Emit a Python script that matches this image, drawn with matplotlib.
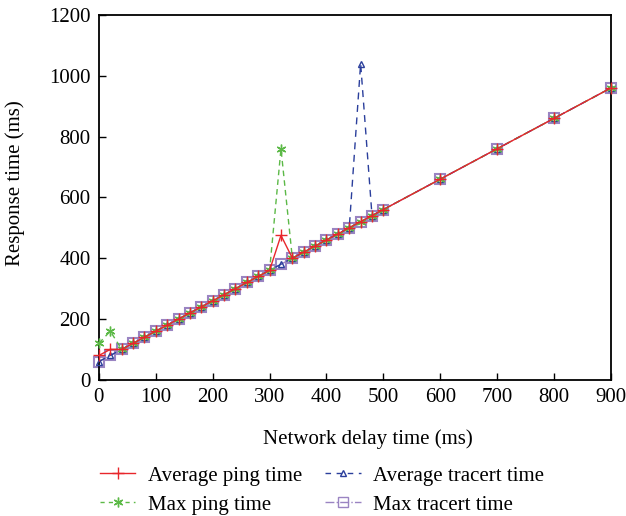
import matplotlib
matplotlib.use('Agg')
import matplotlib.pyplot as plt
from matplotlib.lines import Line2D

plt.rcParams['font.family'] = ['Liberation Serif', 'DejaVu Serif']

# network delay (ms)
delay = [0, 20, 40, 60, 80, 100, 120, 140, 160, 180, 200, 220, 240, 260, 280,
         300, 320, 340, 360, 380, 400, 420, 440, 460, 480, 500, 600, 700, 800, 900]

avg_ping = [80, 100, 100, 120, 140, 160, 180, 200, 220, 240, 260, 280, 300, 320, 340,
            360, 475, 400, 420, 440, 460, 480, 500, 520, 540, 560, 660, 760, 860, 960]
max_ping = [120, 160, 100, 120, 140, 160, 180, 200, 220, 240, 260, 280, 300, 320, 340,
            360, 760, 400, 420, 440, 460, 480, 500, 520, 540, 560, 660, 760, 860, 960]
avg_tracert = [60, 80, 100, 120, 140, 160, 180, 200, 220, 240, 260, 280, 300, 320, 340,
               360, 380, 400, 420, 440, 460, 480, 500, 1040, 540, 560, 660, 760, 860, 960]
max_tracert = [60, 80, 100, 120, 140, 160, 180, 200, 220, 240, 260, 280, 300, 320, 340,
               360, 380, 400, 420, 440, 460, 480, 500, 520, 540, 560, 660, 760, 860, 960]

red = '#e8262b'
green = '#5cb947'
blue = '#2b3f9c'
purple = '#9a84c2'

fig = plt.figure(figsize=(6.26, 5.16), dpi=100)
ax = fig.add_axes([0.158, 0.264, 0.818, 0.707])

ax.plot(delay, max_tracert, color=purple, linestyle='-.', linewidth=1,
        marker='s', markersize=7, markerfacecolor='none', markeredgecolor=purple,
        markeredgewidth=1.5, label='Max tracert time', zorder=2, clip_on=False)
ax.plot(delay, avg_tracert, color=blue, linestyle=(0, (5, 4)), linewidth=1,
        marker='^', markersize=5, markerfacecolor='none', markeredgecolor=blue,
        label='Average tracert time', zorder=3, clip_on=False)
ax.plot(delay, max_ping, color=green, linestyle=(0, (4, 3)), linewidth=1,
        marker=(6, 2, 0), markersize=7, markeredgecolor=green,
        label='Max ping time', zorder=4, clip_on=False)
ax.plot(delay, avg_ping, color=red, linestyle='-', linewidth=1,
        marker='+', markersize=8, markeredgecolor=red,
        label='Average ping time', zorder=5, clip_on=False)

ax.set_xlim(0, 900)
ax.set_ylim(0, 1200)
ax.set_xticks(range(0, 901, 100))
ax.set_yticks(range(0, 1201, 200))
ax.tick_params(direction='in', labelsize=15, length=5, width=1, pad=6)
for s in ax.spines.values():
    s.set_linewidth(1.3)

ax.set_xlabel('Network delay time (ms)', fontsize=15)
ax.set_ylabel('Response time (ms)', fontsize=15)
ax.xaxis.set_label_coords(0.525, -0.137)
ax.yaxis.set_label_coords(-0.145, 0.54)

handles = [
    Line2D([], [], color=red, linestyle='-', marker='+', markersize=8, lw=1),
    Line2D([], [], color=green, linestyle=(0, (3, 3)), marker=(6, 2, 0), markersize=7, lw=1),
    Line2D([], [], color=blue, linestyle=(0, (4, 4)), marker='^', markersize=5,
           markerfacecolor='none', lw=1),
    Line2D([], [], color=purple, linestyle='-.', marker='s', markersize=7,
           markerfacecolor='none', lw=1),
]
labels = ['Average ping time', 'Max ping time', 'Average tracert time', 'Max tracert time']
fig.legend(handles, labels, ncol=2, frameon=False, fontsize=15,
           loc='upper left', bbox_to_anchor=(100 / 626, 1 - 466 / 516),
           borderaxespad=0, borderpad=0,
           handlelength=1.7, columnspacing=1.1, labelspacing=0.45, handletextpad=0.6)

fig.savefig('out.png', dpi=100)
